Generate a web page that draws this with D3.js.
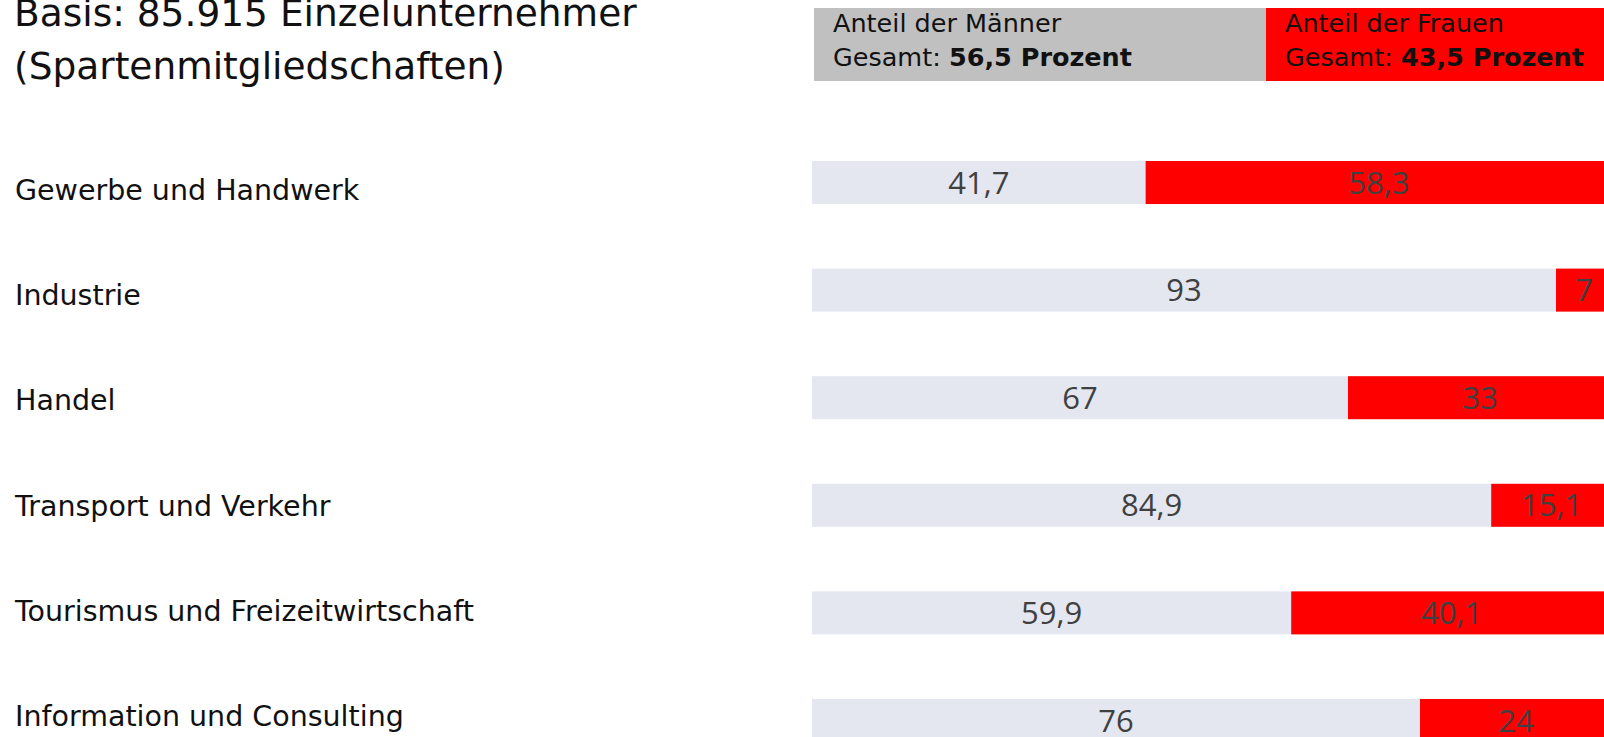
<!DOCTYPE html>
<html>
<head>
<meta charset="utf-8">
<script src="https://cdn.jsdelivr.net/npm/d3@7"></script>
<style>
  body { margin: 0; background: #fff; overflow: hidden; }
  svg { display: block; }
  .label { font-family: "DejaVu Sans", sans-serif; fill: #111; }
  .value { font-family: "Open Sans", sans-serif; fill: #404040; }
</style>
</head>
<body>
<svg id="chart"></svg>
<script>
// data
const categories = ['Gewerbe und Handwerk', 'Industrie', 'Handel', 'Transport und Verkehr',
  'Tourismus und Freizeitwirtschaft', 'Information und Consulting'];
const maenner = [41.7, 93, 67, 84.9, 59.9, 76];
const frauen = [58.3, 7, 33, 15.1, 40.1, 24];
const totalMaenner = 56.5;
const totalFrauen = 43.5;
const titleLines = ['Basis: 85.915 Einzelunternehmer', '(Spartenmitgliedschaften)'];

const fmt = v => String(v).replace('.', ',');

const config = {
  width: 1604,
  height: 737,
  barLeft: 812,
  barRight: 1612,   // 100% lies just past the right edge, as in the original
  colMen: '#e4e7ef',
  colWomen: '#ff0000',
  colLegendMen: '#c0c0c0'
};

const rows = categories.map((c, i) => ({ cat: c, m: maenner[i], f: frauen[i] }));

const svg = d3.select('#chart')
  .attr('width', config.width)
  .attr('height', config.height);

const xScale = d3.scaleLinear()
  .domain([0, 100])
  .range([config.barLeft, config.barRight]);

const yScale = d3.scaleBand()
  .domain(categories)
  .range([161, 742])
  .paddingInner(0.6)
  .paddingOuter(0);

// the category labels sit on a slightly tighter grid than the bars
const labelScale = d3.scalePoint()
  .domain(categories)
  .range([190, 716]);

// title
svg.append('g').selectAll('text')
  .data(titleLines)
  .join('text')
    .attr('class', 'label')
    .attr('x', 14)
    .attr('y', (d, i) => 26 + i * 53)
    .attr('font-size', 37.5)
    .text(d => d);

// legend bar (totals)
const legend = svg.append('g').attr('transform', 'translate(2,0)');
const legendData = [
  { key: 'm', start: 0, end: totalMaenner, fill: config.colLegendMen, title: 'Anteil der Männer', val: totalMaenner },
  { key: 'f', start: totalMaenner, end: 100, fill: config.colWomen, title: 'Anteil der Frauen', val: totalFrauen }
];
legend.selectAll('rect')
  .data(legendData)
  .join('rect')
    .attr('x', d => xScale(d.start))
    .attr('y', 8)
    .attr('width', d => xScale(d.end) - xScale(d.start))
    .attr('height', 73)
    .attr('fill', d => d.fill);

const legText = legend.selectAll('text.leg')
  .data(legendData)
  .join('text')
    .attr('class', 'label leg')
    .attr('font-size', 25.5)
    .attr('fill', '#000');
legText.append('tspan')
  .attr('x', d => xScale(d.start) + 19)
  .attr('y', 32)
  .text(d => d.title);
legText.append('tspan')
  .attr('x', d => xScale(d.start) + 19)
  .attr('y', 66)
  .text('Gesamt: ');
legText.append('tspan')
  .attr('font-weight', 'bold')
  .text(d => fmt(d.val) + ' Prozent');

// category labels
svg.append('g').selectAll('text')
  .data(rows)
  .join('text')
    .attr('class', 'label')
    .attr('x', 15)
    .attr('y', d => labelScale(d.cat) + 10)
    .attr('font-size', 28.5)
    .text(d => d.cat);

// stacked bars
const series = [
  { key: 'm', fill: config.colMen, x0: d => 0, x1: d => d.m, v: d => d.m },
  { key: 'f', fill: config.colWomen, x0: d => d.m, x1: d => d.m + d.f, v: d => d.f }
];

const groups = svg.append('g').selectAll('g')
  .data(series)
  .join('g');

groups.selectAll('rect')
  .data(s => rows.map(r => ({ s, r })))
  .join('rect')
    .attr('x', d => xScale(d.s.x0(d.r)))
    .attr('y', d => yScale(d.r.cat))
    .attr('width', d => xScale(d.s.x1(d.r)) - xScale(d.s.x0(d.r)))
    .attr('height', yScale.bandwidth())
    .attr('fill', d => d.s.fill);

groups.selectAll('text')
  .data(s => rows.map(r => ({ s, r })))
  .join('text')
    .attr('class', 'value')
    .attr('x', d => (xScale(d.s.x0(d.r)) + xScale(d.s.x1(d.r))) / 2)
    .attr('y', d => yScale(d.r.cat) + yScale.bandwidth() / 2)
    .attr('dy', '0.36em')
    .attr('text-anchor', 'middle')
    .attr('font-size', 31)
    .text(d => fmt(d.s.v(d.r)));
</script>
</body>
</html>
